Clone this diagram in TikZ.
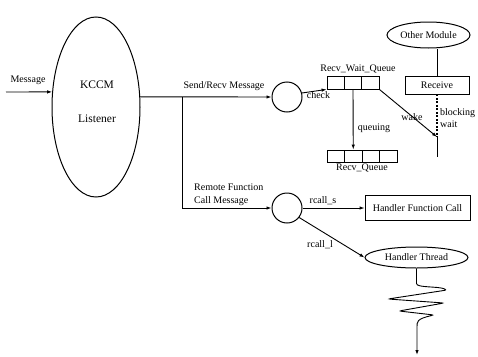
\documentclass[tikz,border=0pt]{standalone}
\usepackage{fontspec}
\setmainfont{Liberation Serif}
\usetikzlibrary{shapes.geometric,arrows.meta}
\begin{document}
\begin{tikzpicture}[x=1pt,y=-1pt,
  every node/.style={font=\fontsize{10}{12}\selectfont, inner sep=0pt},
  line/.style={line width=0.9pt},
  arr/.style={line width=0.9pt,-{Latex[length=5pt,width=3.5pt]}},
  ell/.style={draw,ellipse,line width=1pt},
  circ/.style={draw,circle,minimum size=30pt,line width=1pt},
  wcell/.style={draw,rectangle,line width=0.9pt,minimum width=17.33pt,minimum height=13pt},
  qcell/.style={draw,rectangle,line width=0.9pt,minimum width=17.5pt,minimum height=12pt},
  box/.style={draw,rectangle,line width=0.9pt},
  big/.style={font=\fontsize{11.5}{13}\selectfont},
  dotline/.style={line width=1.3pt,dash pattern=on 2pt off 1.5pt}]
\useasboundingbox (0,0) rectangle (478,356);

% KCCM listener
\node[ell,minimum width=88pt,minimum height=180pt] (kccm) at (96,107) {};
\node[big] (kccmT) at (97,85) {KCCM};
\node[big] (lis) at (97,119) {Listener};
\node (msg) at (28,80) {Message};
\coordinate (msgIn) at (6,92);
\draw[arr] (msgIn) -- (kccm.161);

% circles
\node[circ] (c1) at (287,97) {};
\node[circ] (c2) at (287,208) {};
\coordinate (j) at (182,97);
\draw[arr] (kccm.13) -- (c1.west);
\draw[arr] (j) |- (c2.west);
\node (sr) at (224,86) {Send/Recv Message};
\node[align=left,anchor=west,font=\fontsize{10}{13}\selectfont] (rfc) at (194,194.5) {Remote Function\\Call Message};

% Recv_Wait_Queue
\node[wcell] (w1) at (335.67,82.5) {};
\node[wcell] (w2) at (353,82.5) {};
\node[wcell] (w3) at (370.33,82.5) {};
\node (rwqL) at (358,69) {Recv\_Wait\_Queue};

% Recv_Queue
\node[qcell] (q1) at (335.75,156) {};
\node[qcell] (q2) at (353.25,156) {};
\node[qcell] (q3) at (370.75,156) {};
\node[qcell] (q4) at (388.25,156) {};
\node (rqL) at (362,167.5) {Recv\_Queue};

\draw[arr] (c1.15) -- (w1.south west);
\node (chk) at (318.5,95) {check};
\draw[arr] (w2.south) -- (q2.north);
\node (qing) at (374,128) {queuing};

% Other module / receive
\node[ell,minimum width=83pt,minimum height=26pt] (om) at (428.5,35) {Other Module};
\node[box,minimum width=64pt,minimum height=18pt] (rcv) at (437,85) {Receive};
\draw[line] (rcv.north) -- (rcv.north |- om.south);
\coordinate (wk) at (437,137);
\coordinate (wkEnd) at (437,157);
\draw[dotline] (rcv.south) -- (wk);
\draw[line] (wk) -- (wkEnd);
\draw[arr] (w3.south east) -- (wk);
\node (wake) at (412,117) {wake};
\node[align=left,anchor=west] (bw) at (440,118) {blocking\\wait};

% remote function call
\node[box,minimum width=105pt,minimum height=25pt] (hfc) at (417.5,208) {Handler Function Call};
\draw[arr] (c2.east) -- (hfc.west);
\node (rs) at (323,201) {rcall\_s};
\node[ell,minimum width=103pt,minimum height=21pt] (ht) at (416.5,257.5) {Handler Thread};
\draw[arr] (c2.-38) -- (ht.west);
\node (rl) at (320,245) {rcall\_l};

% thread squiggle
\coordinate (thrEnd) at (417,355);
\draw[arr,rounded corners=2.5pt] (ht.south) -- (416.5,281)
  .. controls (416.5,288) and (438,286) .. (447,290)
  -- (388,299) -- (444,303) -- (399,311) -- (434,315)
  .. controls (416,319) and (417,322) .. (417,330) -- (thrEnd);
\end{tikzpicture}
\end{document}
